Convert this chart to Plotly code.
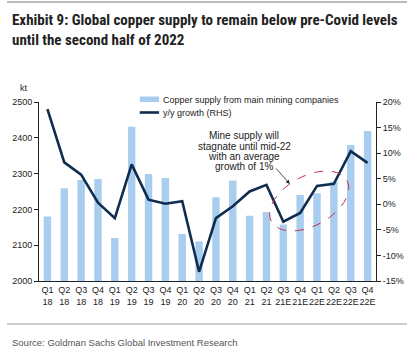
import plotly.graph_objects as go
import math

quarters = ["Q1<br>18","Q2<br>18","Q3<br>18","Q4<br>18","Q1<br>19","Q2<br>19","Q3<br>19","Q4<br>19",
            "Q1<br>20","Q2<br>20","Q3<br>20","Q4<br>20","Q1<br>21","Q2<br>21","Q3<br>21E","Q4<br>21E",
            "Q1<br>22E","Q2<br>22E","Q3<br>22E","Q4<br>22E"]
supply_kt = [2180, 2259, 2282, 2285, 2120, 2431, 2299, 2288, 2131, 2110, 2234, 2281,
             2182, 2193, 2158, 2240, 2245, 2277, 2380, 2419]
yoy_growth = [18.6, 8.2, 5.8, 0.3, -2.7, 7.8, 0.9, 0.1, 0.6, -13.2, -2.7, -0.4,
              2.5, 3.8, -3.4, -1.7, 3.6, 4.0, 10.4, 8.1]
left_ticks = [2000, 2100, 2200, 2300, 2400, 2500]
right_ticks = [-15, -10, -5, 0, 5, 10, 15, 20]
bar_name = "Copper supply from main mining companies"
line_name = "y/y growth (RHS)"
note_lines = ["Mine supply will", "stagnate until mid-22", "with an average", "growth of 1%"]

BAR_COLOR = "#a9cdef"
LINE_COLOR = "#0f2d4f"

W, H = 416, 347
L, R, T, B = 33, 35, 102, 66
PW, PH = W - L - R, H - T - B

def px(x):
    return (x - L) / PW

def py(y):
    return (H - B - y) / PH

fig = go.Figure()
fig.add_trace(go.Bar(x=quarters, y=supply_kt, name=bar_name,
                     marker=dict(color=BAR_COLOR, line=dict(width=0)), width=0.44, yaxis="y",
                     showlegend=False))
fig.add_trace(go.Scatter(x=quarters, y=yoy_growth, name=line_name, mode="lines",
                         line=dict(color=LINE_COLOR, width=2.6), yaxis="y2", showlegend=False))

font_ax = dict(family="Arial, Liberation Sans, sans-serif", size=9, color="#222")
font_note = dict(family="Arial, Liberation Sans, sans-serif", size=10, color="#222")

# ellipse path
cx, cy, a, b, ang = 312, 201, 44, 25, math.radians(27)
pts = []
for i in range(73):
    t = 2 * math.pi * i / 72
    ex = a * math.cos(t)
    ey = b * math.sin(t)
    X = cx + ex * math.cos(ang) + ey * math.sin(ang)
    Y = cy - ex * math.sin(ang) + ey * math.cos(ang)
    pts.append((px(X), py(Y)))
path = "M " + " L ".join(f"{x:.4f},{y:.4f}" for x, y in pts) + " Z"

shapes = [
    dict(type="path", xref="paper", yref="paper", path=path,
         line=dict(color="#c0304a", width=1, dash="dash")),
    dict(type="line", xref="paper", yref="paper", x0=px(0), x1=px(413), y0=py(2), y1=py(2),
         line=dict(color="#777", width=1)),
    dict(type="line", xref="paper", yref="paper", x0=px(0), x1=px(413), y0=py(324), y1=py(324),
         line=dict(color="#999", width=1)),
    # manual legend swatches
    dict(type="rect", xref="paper", yref="paper", x0=px(137), x1=px(157), y0=py(96.5), y1=py(102),
         fillcolor=BAR_COLOR, line=dict(width=0)),
    dict(type="line", xref="paper", yref="paper", x0=px(137), x1=px(157), y0=py(112.5), y1=py(112.5),
         line=dict(color=LINE_COLOR, width=2.6)),
]

annotations = [
    dict(xref="paper", yref="paper", x=px(3), y=py(9), xanchor="left", yanchor="top", align="left",
         text="<b>Exhibit 9: Global copper supply to remain below pre-Covid levels<br>until the second half of 2022</b>",
         showarrow=False,
         font=dict(family="Liberation Sans Narrow, Arial Narrow, Roboto Condensed, sans-serif", size=15, color="#222")),
    dict(xref="paper", yref="paper", x=px(17), y=py(88), text="kt", showarrow=False,
         font=font_ax, xanchor="center", yanchor="middle"),
    dict(xref="paper", yref="paper", x=px(159), y=py(99.5), text=bar_name, showarrow=False,
         font=font_ax, xanchor="left", yanchor="middle"),
    dict(xref="paper", yref="paper", x=px(159), y=py(112.5), text=line_name, showarrow=False,
         font=font_ax, xanchor="left", yanchor="middle"),
    dict(xref="paper", yref="paper", x=px(292), y=py(184), ax=-15, ay=-17, text="",
         showarrow=True, arrowhead=2, arrowsize=1, arrowwidth=0.8, arrowcolor="#222"),
    dict(xref="paper", yref="paper", x=px(3), y=py(342), xanchor="left", yanchor="middle",
         text="Source: Goldman Sachs Global Investment Research", showarrow=False,
         font=dict(family="Liberation Sans Narrow, Arial Narrow, sans-serif", size=9.5, color="#555")),
]
for i, line in enumerate(note_lines):
    annotations.append(dict(xref="paper", yref="paper", x=px(245), y=py(135.7 + 10.3 * i),
                            xanchor="center", yanchor="middle", text=line, showarrow=False,
                            font=font_note))

fig.update_layout(
    width=W, height=H,
    margin=dict(l=L, r=R, t=T, b=B),
    paper_bgcolor="white", plot_bgcolor="white",
    showlegend=False,
    bargap=0.56,
    xaxis=dict(type="category", tickfont=font_ax, showline=True, linecolor="#222", linewidth=1,
               ticks="", showgrid=False, tickangle=0),
    yaxis=dict(range=[2000, 2500], tickvals=left_ticks, tickfont=font_ax, showline=True,
               linecolor="#222", linewidth=1, ticks="outside", ticklen=4, tickcolor="#222",
               showgrid=False, zeroline=False),
    yaxis2=dict(range=[-15, 20], tickvals=right_ticks, ticktext=[f"{v}%" for v in right_ticks],
                overlaying="y", side="right", tickfont=font_ax, showline=True, linecolor="#222",
                linewidth=1, ticks="outside", ticklen=4, tickcolor="#222", showgrid=False,
                zeroline=False),
    shapes=shapes, annotations=annotations,
)

fig.write_html("out.html")
